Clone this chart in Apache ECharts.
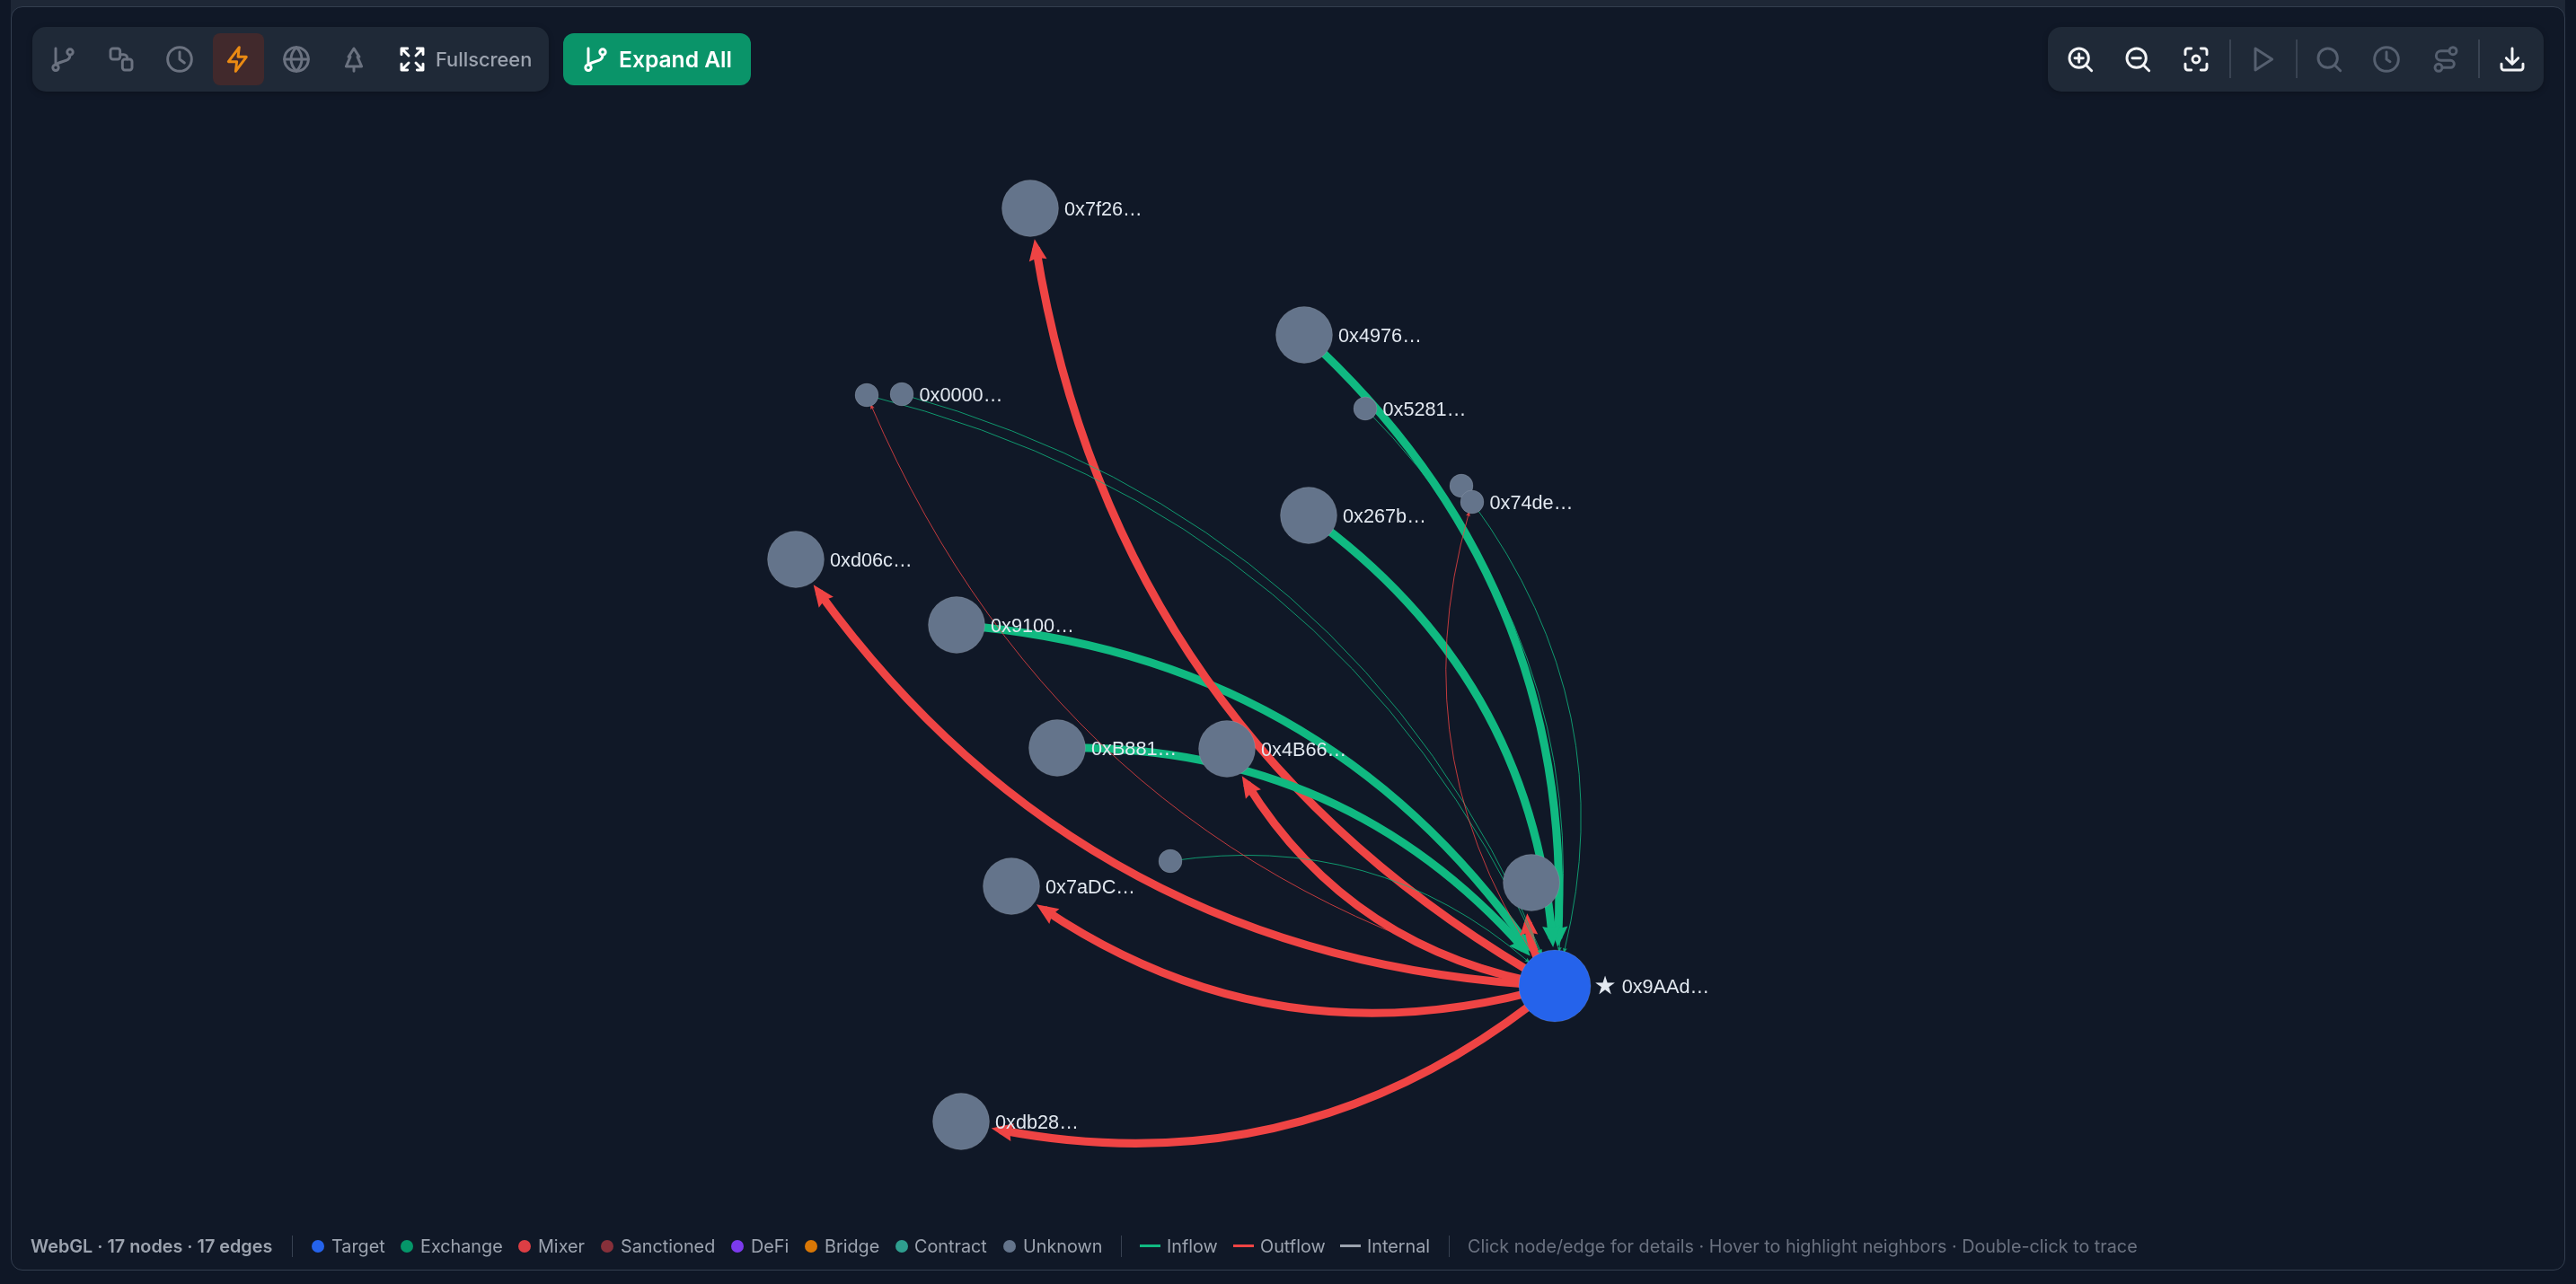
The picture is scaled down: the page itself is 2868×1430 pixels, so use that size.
<!DOCTYPE html>
<html>
<head>
<meta charset="utf-8">
<title>Flow graph</title>
<script src="https://cdn.jsdelivr.net/npm/echarts@6/dist/echarts.min.js"></script>
<style>
html,body{margin:0;padding:0;width:2868px;height:1430px;overflow:hidden;background:#0f1726;font-family:Inter,"Noto Sans",sans-serif}
#frame{position:absolute;left:12px;top:7px;width:2844px;height:1408px;box-sizing:border-box;border:1px solid #333e4f;border-radius:13px;background:#101827}
#top{position:absolute;left:12px;top:0;width:2844px;height:24px;background:#1e2736}
#main{position:absolute;left:0;top:0;width:2868px;height:1430px}
.panel{position:absolute;top:30px;height:72px;background:#1f2937;border-radius:15px;box-shadow:0 2px 6px rgba(0,0,0,.25)}
.ico{position:absolute;top:50px;width:32px;height:32px;fill:none;stroke-width:2.2;stroke-linecap:round;stroke-linejoin:round}
.sep{position:absolute;top:44px;height:43px;width:2px;background:#394352}
.bar-t{position:absolute;top:1376px;height:24px;line-height:24px;font-size:19.8px;color:#9ca3af;white-space:nowrap}
.dot{position:absolute;top:1381px;width:14px;height:14px;border-radius:50%}
.ln{position:absolute;top:1386px;height:3px;width:23px}
.vs{position:absolute;top:1376px;width:1px;height:24px;background:#374151}
</style>
</head>
<body>
<div id="top"></div>
<div id="frame"></div>
<div id="main"></div>
<div id="ui"></div>
<script>
// graph data
var nodeNames  = ['target','n7f26','n4976','n5281','n1','n74de','n267b','n2','n0000','nd06c','n9100','nB881','n4B66','n3','n7aDC','n4','ndb28'];
var nodeLabels = ['{s|★} 0x9AAd…','0x7f26…','0x4976…','0x5281…','','0x74de…','0x267b…','','0x0000…','0xd06c…','0x9100…','0xB881…','0x4B66…','','0x7aDC…','','0xdb28…'];
var nodeX      = [1731,1147,1452,1520,1627,1639,1457,965,1004,886,1065,1177,1366,1303,1126,1705,1070];
var nodeY      = [1098,232,373,455,541,559,574,440,439,623,696,833,834,959,987,983,1249];
var nodeTier   = [2,1,1,0,0,0,1,0,0,1,1,1,1,0,1,1,1];

// big flows, in drawing order
var bigFrom = ['n4976','n267b','n9100','target','target','target','target','target','target','nB881'];
var bigTo   = ['target','target','target','n7f26','nd06c','n4B66','n7aDC','ndb28','n4','target'];
// small flows
var smallFrom = ['n5281','n74de','n0000','n2','n3','target','target'];
var smallTo   = ['target','target','target','target','target','n2','n74de'];

var legendKinds  = ['Target','Exchange','Mixer','Sanctioned','DeFi','Bridge','Contract','Unknown'];
var legendColors = ['#2563eb','#059669','#dc3e44','#87303a','#7c3aed','#d97706','#2f9e8f','#64748b'];
var legendDotX   = [354,453,584,676,821,903,1004,1124];
var legendTextX  = [369,468,599,691,836,918,1018,1139];
var flowKinds    = ['Inflow','Outflow','Internal'];
var flowColors   = ['#10b981','#ef4444','#9ca3af'];
var flowLineX    = [1269,1373,1492];
var statusText   = 'WebGL · 17 nodes · 17 edges';
var hintText     = 'Click node/edge for details · Hover to highlight neighbors · Double-click to trace';

var tierSize = [26,63,80];
var GREEN = '#10b981', RED = '#ef4444';
// head sits off centre in a square box, stray points keep the box from being stretched
var ARROW = 'path://M14 4L24 28L14 25L4 28ZM0 14L0 14M28 14L28 14M14 0L14 0';

function makeLink(src,dst,big){
    return {
        source:src,
        target:dst,
        symbol:['none',ARROW],
        symbolSize:big?[8,28]:[2,7],
        lineStyle:{color:dst=='target'?GREEN:RED,width:big?9:1,opacity:big?1:0.8,curveness:0.25}
    };
}

var myChart = echarts.init(document.getElementById('main'),null,{renderer:'canvas'});
myChart.setOption({
    backgroundColor:'transparent',
    animation:false,
    grid:{left:0,right:0,top:0,bottom:0},
    xAxis:{type:'value',min:0,max:2868,show:false},
    yAxis:{type:'value',min:0,max:1430,inverse:true,show:false},
    series:[{
        // big flows first: its nodes are only there to stop the lines short of the real ones
        type:'graph',
        coordinateSystem:'cartesian2d',
        layout:'none',
        silent:true,
        data:nodeNames.map(function(n,i){
            return {name:n,value:[nodeX[i],nodeY[i]],symbolSize:tierSize[nodeTier[i]]+26,itemStyle:{opacity:0}};
        }),
        links:bigFrom.map(function(n,i){ return makeLink(n,bigTo[i],true); }),
        emphasis:{disabled:true}
    },{
        type:'graph',
        coordinateSystem:'cartesian2d',
        layout:'none',
        data:nodeNames.map(function(n,i){
            return {
                name:n,
                value:[nodeX[i],nodeY[i]],
                symbolSize:tierSize[nodeTier[i]],
                itemStyle:{color:i==0?'#2563eb':'#64748b'},
                label:{show:true,formatter:nodeLabels[i]||' ',distance:i==0?4:7}
            };
        }),
        links:smallFrom.map(function(n,i){ return makeLink(n,smallTo[i],false); }),
        itemStyle:{borderColor:'rgba(255,255,255,.12)',borderWidth:1},
        label:{
            position:'right',
            offset:[-1,2],
            color:'#e2e8f0',
            fontSize:21.7,
            fontFamily:'"Liberation Sans",Arial,sans-serif',
            rich:{s:{fontSize:28,color:'#e2e8f0',fontFamily:'"DejaVu Sans",sans-serif'}}
        },
        emphasis:{disabled:true}
    }]
});

// chrome round the chart
var ui = document.getElementById('ui');
function addDiv(cls,css,text){
    var d = document.createElement('div');
    d.className = cls;
    d.style.cssText = css;
    if(text) d.textContent = text;
    ui.appendChild(d);
    return d;
}
function addIcon(x,color,path){
    var html = '<svg class="ico" viewBox="0 0 24 24" style="left:'+(x-16)+'px;stroke:'+color+'">'+path+'</svg>';
    ui.insertAdjacentHTML('beforeend',html);
}
addDiv('panel','left:36px;width:575px');
addDiv('panel','left:2280px;width:552px');
addDiv('','position:absolute;left:237px;top:37px;width:57px;height:58px;border-radius:8px;background:#41292c');
addDiv('','position:absolute;left:627px;top:37px;width:209px;height:58px;border-radius:12px;background:#0a9469');

var gitIcon = '<circle cx="6" cy="19" r="2.4"/><circle cx="18" cy="6" r="2.4"/><path d="M6 3v13.5M18 8.4c0 6-6 4-12 8"/>';
var GREY = '#6b7280', DIM = '#566070', WHITE = '#f3f4f6';
addIcon(70,GREY,gitIcon);
addIcon(135,GREY,'<rect x="3" y="3" width="8" height="9" rx="2"/><rect x="13" y="12" width="8" height="9" rx="2"/><path d="M11 8h3a3 3 0 0 1 3 3v1"/>');
addIcon(200,GREY,'<circle cx="12" cy="12" r="10"/><path d="M12 6v6l4 3"/>');
addIcon(265,'#ea8a13','<path d="M13 2 4 14h7l-1 8 9-12h-7z"/>');
addIcon(330,GREY,'<circle cx="12" cy="12" r="10"/><path d="M2 12h20M12 2c-6 6-6 14 0 20M12 2c6 6 6 14 0 20"/>');
addIcon(394,GREY,'<path d="M12 3 7.5 10H9l-3.5 8h13L15 10h1.5zM12 18v4"/>');
addIcon(459,'#ffffff','<path d="M3 8V3h5M16 3h5v5M21 16v5h-5M8 21H3v-5M4 4l5 5M20 4l-5 5M20 20l-5-5M4 20l5-5"/>');
addDiv('','position:absolute;left:485px;top:52px;line-height:28px;font-size:21.8px;font-weight:500;color:#9ca3af','Fullscreen');
addIcon(663,'#ffffff',gitIcon);
addDiv('','position:absolute;left:689px;top:50px;line-height:32px;font-size:24.6px;font-weight:600;color:#ffffff','Expand All');

addIcon(2316,WHITE,'<circle cx="11" cy="11" r="8"/><path d="M17 17l4.5 4.5M11 7.5v7M7.5 11h7"/>');
addIcon(2380,WHITE,'<circle cx="11" cy="11" r="8"/><path d="M17 17l4.5 4.5M7.5 11h7"/>');
addIcon(2445,WHITE,'<path d="M3 8V5a2 2 0 0 1 2-2h3M16 3h3a2 2 0 0 1 2 2v3M21 16v3a2 2 0 0 1-2 2h-3M8 21H5a2 2 0 0 1-2-2v-3"/><circle cx="12" cy="12" r="3"/>');
addIcon(2519,DIM,'<path d="M6 3v18l14-9z"/>');
addIcon(2593,DIM,'<circle cx="11" cy="11" r="8"/><path d="M17 17l4.5 4.5"/>');
addIcon(2657,DIM,'<circle cx="12" cy="12" r="10"/><path d="M12 6v6l3 2"/>');
addIcon(2723,DIM,'<circle cx="18" cy="5" r="3"/><circle cx="6" cy="19" r="3"/><path d="M15 5H8a4 4 0 0 0 0 8h8a3 3 0 0 1 0 6H9"/>');
addIcon(2797,WHITE,'<path d="M12 3v13M7 11l5 5 5-5M3 16v3a2 2 0 0 0 2 2h14a2 2 0 0 0 2-2v-3"/>');
[2482,2556,2759].forEach(function(x){ addDiv('sep','left:'+x+'px'); });

addDiv('bar-t','left:34px;font-weight:600',statusText);
addDiv('vs','left:325px');
legendKinds.forEach(function(k,i){
    addDiv('dot','left:'+(legendDotX[i]-7)+'px;background:'+legendColors[i]);
    addDiv('bar-t','left:'+legendTextX[i]+'px',k);
});
addDiv('vs','left:1248px');
flowKinds.forEach(function(k,i){
    addDiv('ln','left:'+flowLineX[i]+'px;background:'+flowColors[i]);
    addDiv('bar-t','left:'+(flowLineX[i]+30)+'px',k);
});
addDiv('vs','left:1613px');
addDiv('bar-t','left:1634px;color:#6b7280',hintText);

window.addEventListener("resize",function(){
    myChart.resize();
});
</script>
</body>
</html>
